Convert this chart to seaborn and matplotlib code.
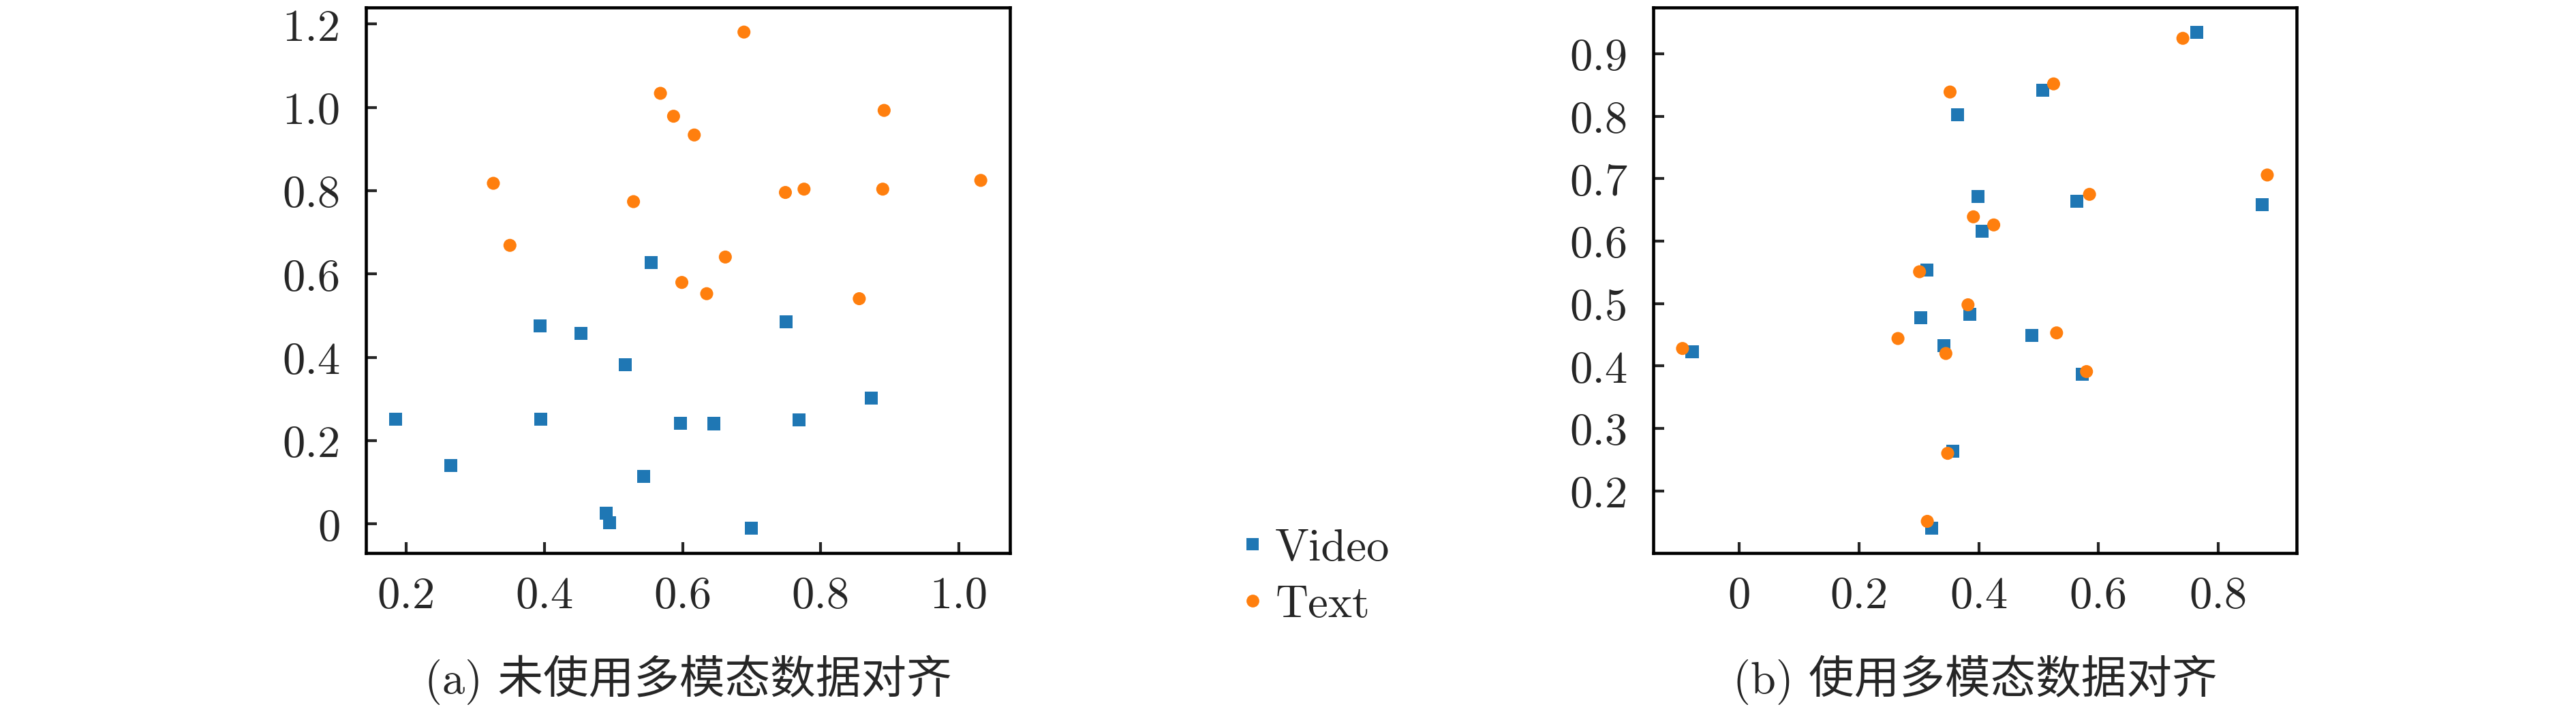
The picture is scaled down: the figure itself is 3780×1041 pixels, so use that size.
import matplotlib
matplotlib.use("Agg")
import matplotlib.pyplot as plt
from matplotlib.lines import Line2D
from matplotlib.ticker import MultipleLocator, FuncFormatter
import pandas as pd
import seaborn as sns

# (a) without multimodal alignment
a_video_x = [0.184, 0.264, 0.394, 0.395, 0.453, 0.489, 0.494, 0.517, 0.544,
             0.555, 0.597, 0.645, 0.700, 0.750, 0.769, 0.873]
a_video_y = [0.252, 0.140, 0.475, 0.251, 0.458, 0.026, 0.003, 0.383, 0.114,
             0.627, 0.242, 0.241, -0.010, 0.485, 0.250, 0.303]
a_text_x = [0.326, 0.350, 0.529, 0.568, 0.587, 0.599, 0.617, 0.635, 0.662,
            0.689, 0.749, 0.776, 0.856, 0.890, 0.892, 1.032]
a_text_y = [0.818, 0.669, 0.774, 1.034, 0.979, 0.580, 0.934, 0.553, 0.641,
            1.181, 0.796, 0.804, 0.541, 0.804, 0.993, 0.825]

# (b) with multimodal alignment
b_video_x = [-0.079, 0.303, 0.313, 0.321, 0.342, 0.357, 0.365, 0.385, 0.399,
             0.406, 0.489, 0.507, 0.564, 0.573, 0.764, 0.873]
b_video_y = [0.423, 0.477, 0.554, 0.140, 0.433, 0.263, 0.803, 0.483, 0.672,
             0.616, 0.449, 0.842, 0.664, 0.387, 0.935, 0.658]
b_text_x = [-0.095, 0.265, 0.301, 0.314, 0.345, 0.348, 0.352, 0.382, 0.391,
            0.425, 0.525, 0.530, 0.580, 0.585, 0.741, 0.882]
b_text_y = [0.428, 0.444, 0.551, 0.151, 0.420, 0.260, 0.839, 0.498, 0.639,
            0.626, 0.852, 0.453, 0.391, 0.675, 0.925, 0.706]

captions = ["(a) 未使用多模态数据对齐", "(b) 使用多模态数据对齐"]
modalities = ["Video", "Text"]
colors = {"Video": "#1f77b4", "Text": "#ff7f0e"}
markers = {"Video": "s", "Text": "o"}


def make_frame(vx, vy, tx, ty):
    return pd.DataFrame({
        "x": vx + tx,
        "y": vy + ty,
        "modality": ["Video"] * len(vx) + ["Text"] * len(tx),
    })


sns.set_style("ticks")
plt.rcParams["font.family"] = ["cmr10", "Noto Sans CJK SC"]
plt.rcParams["axes.formatter.use_mathtext"] = True
plt.rcParams["font.size"] = 16

fig = plt.figure(figsize=(12.6, 3.4733), dpi=300)
ax_a = fig.add_axes([0.1421, 0.2198, 0.2500, 0.7690])
ax_b = fig.add_axes([0.6418, 0.2198, 0.2497, 0.7690])

fmt = FuncFormatter(lambda v, p: "0" if abs(v) < 1e-9 else f"{v:.1f}")

panels = [
    (ax_a, make_frame(a_video_x, a_video_y, a_text_x, a_text_y), 0.2, 0.2),
    (ax_b, make_frame(b_video_x, b_video_y, b_text_x, b_text_y), 0.2, 0.1),
]
for (ax, df, xstep, ystep), cap in zip(panels, captions):
    sns.scatterplot(data=df, x="x", y="y", hue="modality", style="modality",
                    palette=colors, markers=markers, s=21, linewidth=0,
                    legend=False, ax=ax)
    ax.set_xlabel("")
    ax.set_ylabel("")
    ax.xaxis.set_major_locator(MultipleLocator(xstep))
    ax.yaxis.set_major_locator(MultipleLocator(ystep))
    ax.xaxis.set_major_formatter(fmt)
    ax.yaxis.set_major_formatter(fmt)
    ax.tick_params(direction="in", length=3.8, width=1.0, labelsize=16,
                   top=False, right=False)
    ax.tick_params(axis="x", pad=8)
    ax.tick_params(axis="y", pad=9)
    for sp in ax.spines.values():
        sp.set_visible(True)
        sp.set_linewidth(1.1)
        sp.set_color("black")
    pos = ax.get_position()
    fig.text((pos.x0 + pos.x1) / 2, 0.042, cap, ha="center", va="center",
             fontsize=16)

handles = [Line2D([], [], linestyle="none", marker=markers[m],
                  markersize=4.5, markerfacecolor=colors[m],
                  markeredgewidth=0) for m in modalities]
fig.legend(handles, modalities, loc="center",
           bbox_to_anchor=(1932 / 3780, 1 - 848 / 1042), frameon=False,
           fontsize=16, handlelength=0.4, handletextpad=0.3,
           labelspacing=0.35)

fig.savefig("out.png", dpi=300)
